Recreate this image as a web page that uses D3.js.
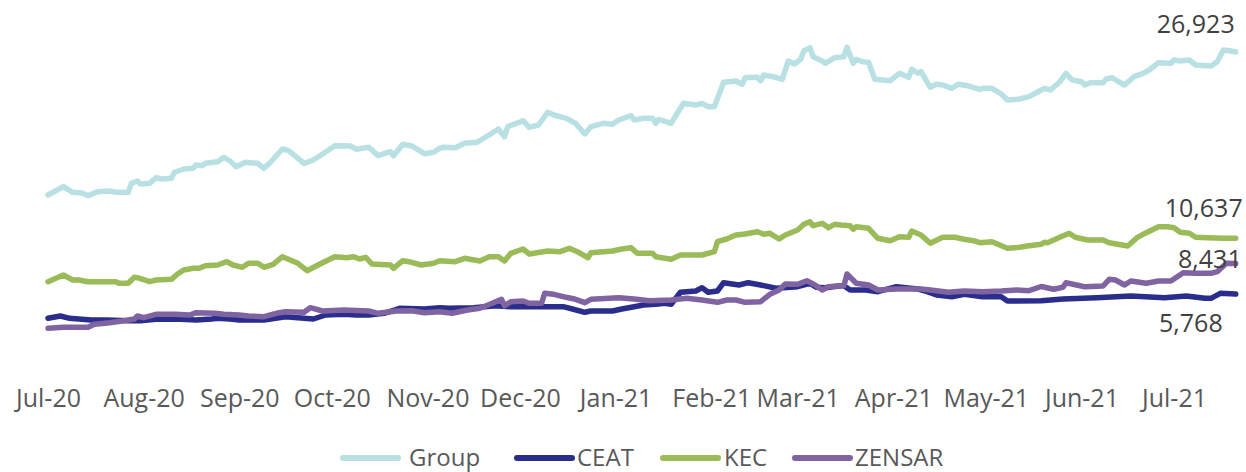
<!DOCTYPE html>
<html>
<head>
<meta charset="utf-8">
<script src="https://cdn.jsdelivr.net/npm/d3@7"></script>
<style>
  html, body { margin: 0; padding: 0; background: #ffffff; }
  svg { display: block; font-family: "Open Sans", "Noto Sans", sans-serif; }
</style>
</head>
<body>
<svg id="chart" width="1246" height="472"></svg>
<script>
// ---------- data ----------
const seriesNames = ["Group", "CEAT", "KEC", "ZENSAR"];
const endLabels = ["26,923", "5,768", "10,637", "8,431"];
const tickMonths = ["2020-07-01","2020-08-01","2020-09-01","2020-10-01","2020-11-01","2020-12-01",
                    "2021-01-01","2021-02-01","2021-03-01","2021-04-01","2021-05-01","2021-06-01","2021-07-01"];

const groupData = [["2020-07-01",14424],["2020-07-06",15150],["2020-07-09",14660],["2020-07-12",14599],["2020-07-14",14363],["2020-07-17",14713],["2020-07-21",14774],["2020-07-23",14660],["2020-07-27",14660],["2020-07-28",15447],["2020-07-30",15648],["2020-07-31",15386],["2020-08-03",15447],["2020-08-05",15937],["2020-08-07",15823],["2020-08-10",15884],["2020-08-11",16409],["2020-08-14",16697],["2020-08-17",16758],["2020-08-18",17047],["2020-08-20",16986],["2020-08-21",17196],["2020-08-25",17335],["2020-08-27",17720],["2020-08-29",17397],["2020-08-31",16898],["2020-09-03",17283],["2020-09-07",17196],["2020-09-09",16758],["2020-09-11",17248],["2020-09-15",18446],["2020-09-17",18297],["2020-09-22",17196],["2020-09-25",17484],["2020-09-28",18009],["2020-10-02",18734],["2020-10-07",18708],["2020-10-09",18419],["2020-10-13",18594],["2020-10-16",17860],["2020-10-20",18210],["2020-10-21",17860],["2020-10-24",18857],["2020-10-27",18708],["2020-10-31",18035],["2020-11-03",18157],["2020-11-05",18507],["2020-11-06",18594],["2020-11-10",18559],["2020-11-13",18944],["2020-11-17",19031],["2020-11-21",19670],["2020-11-24",20194],["2020-11-26",19521],["2020-11-27",20395],["2020-12-02",20920],["2020-12-04",20343],["2020-12-07",20544],["2020-12-10",21654],["2020-12-12",21418],["2020-12-16",21130],["2020-12-19",20692],["2020-12-22",19757],["2020-12-24",20395],["2020-12-28",20692],["2020-12-31",20605],["2021-01-02",20981],["2021-01-06",21357],["2021-01-07",20981],["2021-01-10",21130],["2021-01-13",21130],["2021-01-14",20692],["2021-01-15",21042],["2021-01-19",20692],["2021-01-20",21130],["2021-01-23",22441],["2021-01-27",22292],["2021-01-29",22441],["2021-01-31",22144],["2021-02-02",22144],["2021-02-05",24277],["2021-02-09",24390],["2021-02-11",24102],["2021-02-12",24679],["2021-02-16",24714],["2021-02-17",24416],["2021-02-18",24915],["2021-02-21",24766],["2021-02-24",24539],["2021-02-26",26139],["2021-02-28",25876],["2021-03-02",26287],["2021-03-03",27039],["2021-03-05",27301],["2021-03-06",26515],["2021-03-09",26139],["2021-03-10",25937],["2021-03-13",26427],["2021-03-16",26515],["2021-03-17",27336],["2021-03-19",25937],["2021-03-20",26287],["2021-03-22",26078],["2021-03-24",26025],["2021-03-26",24539],["2021-03-31",24416],["2021-04-03",25063],["2021-04-06",24714],["2021-04-07",25413],["2021-04-09",25063],["2021-04-10",25203],["2021-04-13",23840],["2021-04-15",24102],["2021-04-17",24041],["2021-04-20",23752],["2021-04-22",24102],["2021-04-25",23979],["2021-04-29",23665],["2021-04-30",23752],["2021-05-03",23752],["2021-05-06",23254],["2021-05-08",22729],["2021-05-12",22817],["2021-05-15",23018],["2021-05-19",23603],["2021-05-20",23752],["2021-05-22",23603],["2021-05-25",24329],["2021-05-27",25063],["2021-05-29",24478],["2021-06-01",24329],["2021-06-02",24041],["2021-06-04",24242],["2021-06-08",24242],["2021-06-09",24565],["2021-06-11",24679],["2021-06-13",24329],["2021-06-15",24041],["2021-06-18",24766],["2021-06-21",25063],["2021-06-23",25352],["2021-06-26",25990],["2021-06-30",25937],["2021-07-01",26226],["2021-07-03",26139],["2021-07-06",26226],["2021-07-08",25789],["2021-07-13",25701],["2021-07-15",26078],["2021-07-17",27100],["2021-07-19",27039],["2021-07-21",26923]];

const ceatData = [["2020-07-01",3645],["2020-07-05",3846],["2020-07-08",3645],["2020-07-15",3497],["2020-07-20",3497],["2020-07-27",3436],["2020-07-31",3436],["2020-08-05",3558],["2020-08-13",3558],["2020-08-18",3497],["2020-08-23",3584],["2020-08-25",3645],["2020-08-29",3584],["2020-09-01",3497],["2020-09-09",3497],["2020-09-16",3785],["2020-09-25",3584],["2020-09-29",3934],["2020-10-05",3995],["2020-10-09",3934],["2020-10-13",3934],["2020-10-18",4083],["2020-10-23",4520],["2020-10-31",4458],["2020-11-05",4572],["2020-11-08",4520],["2020-11-16",4572],["2020-11-23",4747],["2020-11-28",4659],["2020-12-04",4659],["2020-12-15",4659],["2020-12-18",4458],["2020-12-22",4170],["2020-12-24",4284],["2020-12-31",4284],["2021-01-03",4458],["2021-01-07",4659],["2021-01-10",4808],["2021-01-14",4869],["2021-01-17",4957],["2021-01-19",4869],["2021-01-22",5918],["2021-01-27",6032],["2021-01-29",6321],["2021-01-31",5918],["2021-02-03",6032],["2021-02-05",6758],["2021-02-10",6557],["2021-02-13",6758],["2021-02-17",6557],["2021-02-22",6268],["2021-03-01",6408],["2021-03-05",6705],["2021-03-07",6355],["2021-03-10",6321],["2021-03-15",6495],["2021-03-16",6495],["2021-03-18",6119],["2021-03-23",6119],["2021-03-27",5971],["2021-04-02",6408],["2021-04-09",6207],["2021-04-12",5971],["2021-04-15",5682],["2021-04-20",5534],["2021-04-24",5743],["2021-04-30",5534],["2021-05-06",5534],["2021-05-08",5158],["2021-05-19",5184],["2021-05-26",5333],["2021-06-06",5446],["2021-06-17",5595],["2021-06-28",5446],["2021-07-05",5595],["2021-07-11",5394],["2021-07-13",5394],["2021-07-16",5831],["2021-07-21",5768]];

const kecData = [["2020-07-01",6845],["2020-07-06",7431],["2020-07-09",6994],["2020-07-11",6994],["2020-07-14",6845],["2020-07-21",6845],["2020-07-23",6845],["2020-07-24",6705],["2020-07-27",6705],["2020-07-29",7230],["2020-07-30",7195],["2020-08-03",6845],["2020-08-05",6994],["2020-08-10",7055],["2020-08-12",7518],["2020-08-14",7868],["2020-08-17",8016],["2020-08-19",8016],["2020-08-21",8244],["2020-08-25",8305],["2020-08-28",8593],["2020-08-30",8305],["2020-09-02",8104],["2020-09-04",8454],["2020-09-07",8454],["2020-09-09",8104],["2020-09-12",8366],["2020-09-15",9031],["2020-09-20",8454],["2020-09-23",7807],["2020-09-27",8366],["2020-10-02",9031],["2020-10-06",8943],["2020-10-08",9031],["2020-10-10",8829],["2020-10-12",8978],["2020-10-14",8392],["2020-10-20",8305],["2020-10-21",8016],["2020-10-24",8681],["2020-10-26",8593],["2020-10-30",8305],["2020-11-03",8454],["2020-11-05",8681],["2020-11-10",8593],["2020-11-13",8891],["2020-11-18",8655],["2020-11-21",9031],["2020-11-24",9031],["2020-11-26",8655],["2020-11-28",9328],["2020-12-02",9704],["2020-12-04",9267],["2020-12-10",9529],["2020-12-14",9468],["2020-12-17",9765],["2020-12-20",9415],["2020-12-23",8943],["2020-12-24",9380],["2020-12-31",9529],["2021-01-03",9704],["2021-01-06",9817],["2021-01-08",9328],["2021-01-13",9328],["2021-01-14",9031],["2021-01-19",8803],["2021-01-22",9179],["2021-01-29",9179],["2021-02-02",9468],["2021-02-03",10342],["2021-02-06",10578],["2021-02-09",10928],["2021-02-12",11015],["2021-02-16",11216],["2021-02-18",10989],["2021-02-20",11076],["2021-02-23",10578],["2021-02-25",10928],["2021-03-01",11365],["2021-03-03",11863],["2021-03-05",12090],["2021-03-06",11741],["2021-03-09",11950],["2021-03-11",11566],["2021-03-13",11863],["2021-03-15",11802],["2021-03-18",11741],["2021-03-19",11426],["2021-03-20",11653],["2021-03-24",11513],["2021-03-27",10639],["2021-03-31",10429],["2021-04-03",10779],["2021-04-06",10727],["2021-04-07",11277],["2021-04-10",10928],["2021-04-13",10202],["2021-04-17",10727],["2021-04-21",10727],["2021-04-24",10552],["2021-04-27",10429],["2021-04-29",10254],["2021-05-03",10342],["2021-05-08",9765],["2021-05-12",9852],["2021-05-15",9992],["2021-05-19",10115],["2021-05-20",10289],["2021-05-21",10254],["2021-05-25",10727],["2021-05-28",11076],["2021-05-30",10727],["2021-06-03",10490],["2021-06-08",10490],["2021-06-10",10254],["2021-06-16",9966],["2021-06-19",10692],["2021-06-22",11129],["2021-06-26",11653],["2021-06-29",11653],["2021-07-01",11566],["2021-07-03",11164],["2021-07-06",11076],["2021-07-08",10727],["2021-07-12",10692],["2021-07-17",10639],["2021-07-21",10637]];

const zensarData = [["2020-07-01",2771],["2020-07-06",2859],["2020-07-14",2859],["2020-07-16",3121],["2020-07-21",3261],["2020-07-25",3409],["2020-07-29",3584],["2020-07-30",3846],["2020-08-01",3698],["2020-08-05",3995],["2020-08-11",3995],["2020-08-16",3934],["2020-08-18",4135],["2020-08-24",4083],["2020-08-27",3995],["2020-09-01",3934],["2020-09-04",3846],["2020-09-09",3785],["2020-09-13",4083],["2020-09-16",4222],["2020-09-22",4170],["2020-09-24",4572],["2020-09-28",4284],["2020-10-05",4371],["2020-10-13",4284],["2020-10-16",4083],["2020-10-22",4284],["2020-10-27",4310],["2020-10-31",4135],["2020-11-05",4222],["2020-11-09",4083],["2020-11-14",4371],["2020-11-18",4520],["2020-11-22",4957],["2020-11-25",5306],["2020-11-26",4747],["2020-11-28",5097],["2020-12-02",5158],["2020-12-04",4957],["2020-12-08",4957],["2020-12-09",5831],["2020-12-12",5743],["2020-12-16",5481],["2020-12-19",5306],["2020-12-22",5009],["2020-12-24",5306],["2020-12-30",5394],["2021-01-02",5446],["2021-01-07",5333],["2021-01-12",5184],["2021-01-19",5245],["2021-01-24",5394],["2021-01-29",5245],["2021-02-03",5044],["2021-02-06",5245],["2021-02-09",5245],["2021-02-12",5044],["2021-02-17",5097],["2021-02-20",5743],["2021-02-23",6119],["2021-02-25",6644],["2021-03-01",6618],["2021-03-04",6932],["2021-03-07",6495],["2021-03-09",6119],["2021-03-11",6408],["2021-03-15",6495],["2021-03-16",6495],["2021-03-17",7518],["2021-03-20",6705],["2021-03-24",6557],["2021-03-27",6119],["2021-04-02",6207],["2021-04-10",6207],["2021-04-13",6119],["2021-04-19",5918],["2021-04-24",6032],["2021-04-30",5971],["2021-05-06",6032],["2021-05-11",6119],["2021-05-15",6058],["2021-05-19",6426],["2021-05-23",6181],["2021-05-26",6355],["2021-05-27",6758],["2021-06-02",6408],["2021-06-08",6469],["2021-06-10",7055],["2021-06-12",6994],["2021-06-15",6557],["2021-06-17",6906],["2021-06-22",6705],["2021-06-26",6906],["2021-06-30",6906],["2021-07-04",7632],["2021-07-08",7579],["2021-07-13",7579],["2021-07-15",7719],["2021-07-18",8454],["2021-07-21",8431]];

// ---------- presentation ----------
const colors = ["#b9e1e4", "#2b2d8c", "#9bbb59", "#8064a2"];
const seriesData = [groupData, ceatData, kecData, zensarData];
// end-label offsets relative to the last point (dx to text end, dy to baseline)
const labelOffsets = [[-1, -19], [-13, 38], [7, -21], [6, 4]];
// legend layout: x of line sample start, x of text
const legendLayout = [[343, 409], [517, 577], [663, 724], [795, 855]];

const parse = d3.timeParse("%Y-%m-%d");
const svg = d3.select("#chart");

const x = d3.scaleTime()
  .domain([parse("2020-07-01"), parse("2021-07-01")])
  .range([48, 1174]);
const y = d3.scaleLinear()
  .domain([0, 28000])
  .range([360, 360 - 28000 / 87.42]);

// x axis (labels only)
const axis = d3.axisBottom(x)
  .tickValues(tickMonths.map(parse))
  .tickFormat(d3.timeFormat("%b-%y"))
  .tickSize(0)
  .tickPadding(10);
const gAxis = svg.append("g").attr("transform", "translate(0,379)").call(axis);
gAxis.select(".domain").remove();
gAxis.selectAll("text")
  .attr("fill", "#595959")
  .style("font-size", "25px")
  .style("font-family", "'Open Sans', sans-serif");

// lines
const line = d3.line()
  .x(d => x(parse(d[0])))
  .y(d => y(d[1]));

seriesData.forEach((data, i) => {
  svg.append("path")
    .datum(data)
    .attr("fill", "none")
    .attr("stroke", colors[i])
    .attr("stroke-width", 5.5)
    .attr("stroke-linejoin", "round")
    .attr("stroke-linecap", "round")
    .attr("d", line);
});

// end labels
seriesData.forEach((data, i) => {
  const last = data[data.length - 1];
  svg.append("text")
    .attr("x", x(parse(last[0])) + labelOffsets[i][0])
    .attr("y", y(last[1]) + labelOffsets[i][1])
    .attr("text-anchor", "end")
    .attr("fill", "#404040")
    .style("font-size", "25px")
    .text(endLabels[i]);
});

// legend
const legY = 458;
seriesNames.forEach((name, i) => {
  const [lx, tx] = legendLayout[i];
  svg.append("line")
    .attr("x1", lx).attr("x2", lx + 55)
    .attr("y1", legY).attr("y2", legY)
    .attr("stroke", colors[i])
    .attr("stroke-width", 6)
    .attr("stroke-linecap", "round");
  svg.append("text")
    .attr("x", tx)
    .attr("y", legY + 8)
    .attr("fill", "#595959")
    .style("font-size", "24px")
    .text(name);
});
</script>
</body>
</html>
